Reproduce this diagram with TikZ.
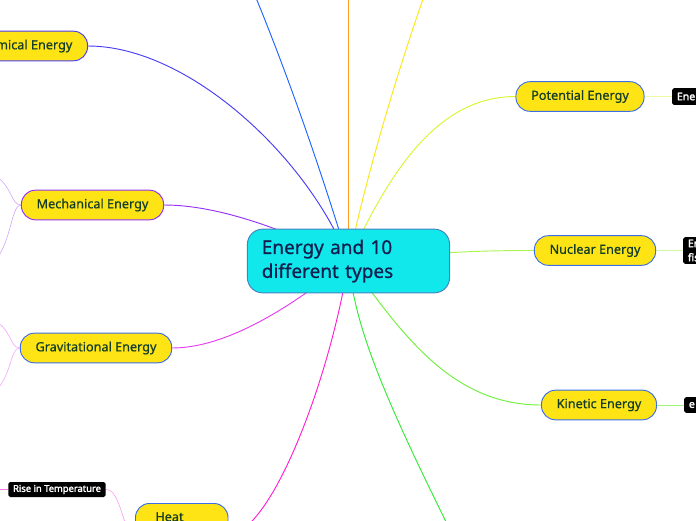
\documentclass[tikz,border=0pt]{standalone}
\usepackage{fontspec}
\setmainfont{Noto Sans}
\newfontfamily\topicfont[FakeBold=0.7]{Noto Sans}
\newfontfamily\tagfont[FakeBold=2.2]{Noto Sans}
\usepackage{tikz}
\usetikzlibrary{backgrounds}
\usepackage{xcolor}
\definecolor{topicyellow}{RGB}{255,228,21}
\definecolor{topictext}{RGB}{20,62,42}
\definecolor{roottext}{RGB}{18,30,78}
\definecolor{rootfill}{RGB}{16,232,236}
\definecolor{rootline}{RGB}{70,130,190}
\definecolor{edgeblue}{RGB}{60,110,230}
\definecolor{chemline}{RGB}{72,60,245}
\definecolor{mechline}{RGB}{150,50,245}
\definecolor{gravline}{RGB}{230,60,240}
\definecolor{heatline}{RGB}{255,30,210}
\definecolor{skyline}{RGB}{30,100,255}
\definecolor{orangeline}{RGB}{255,155,30}
\definecolor{yellowline}{RGB}{250,230,20}
\definecolor{potline}{RGB}{214,246,50}
\definecolor{nucline}{RGB}{170,245,80}
\definecolor{kinline}{RGB}{110,240,60}
\definecolor{greenline}{RGB}{50,235,50}

\begin{document}
\begin{tikzpicture}[x=0.03cm, y=-0.03cm,
    topic/.style={draw=edgeblue, line width=0.8pt, fill=topicyellow, rounded corners=12pt,
      minimum height=25.3pt, inner xsep=13pt, text=topictext, font=\topicfont\fontsize{10.8}{13}\selectfont},
    tag/.style={fill=black, rounded corners=1.5pt, text=white, inner xsep=4pt, inner ysep=1pt,
      font=\tagfont\fontsize{8}{9.5}\selectfont},
    link/.style={line width=0.8pt},
    twig/.style={line width=0.5pt}]
    \useasboundingbox (0,0) rectangle (696,520);

    % Central idea
    \node[draw=rootline, line width=0.8pt, fill=rootfill, rounded corners=13pt,
      minimum width=172.6pt, minimum height=54.4pt, text width=148pt, align=left,
      text=roottext, font=\topicfont\fontsize{16.2}{20.4}\selectfont] (root) at (348.5,261)
      {Energy and 10\\different types};

    % Topics
    \node[topic, draw=chemline, anchor=east] (chem) at (88,46) {Chemical Energy};
    \node[topic, draw=mechline] (mech) at (92.5,205) {Mechanical Energy};
    \node[topic] (grav) at (96,348) {Gravitational Energy};
    \node[topic, anchor=north west, text width=45pt, align=left, inner xsep=17pt,
      inner ysep=7.6pt, text height=7.6pt, text depth=30pt] (heat) at (135,503) {Heat};
    \node[topic] (pot) at (580,96.5) {Potential Energy};
    \node[topic] (nuc) at (595,250.5) {Nuclear Energy};
    \node[topic] (kin) at (599,405) {Kinetic Energy};

    % Black notes
    \node[tag, minimum height=12.8pt] (rise) at (57,489.5) {Rise in Temperature};
    \node[tag, anchor=west, font=\tagfont\fontsize{9}{12}\selectfont, text width=30pt,
      align=left, minimum height=14.5pt] (potnote) at (672,96.5) {Ene};
    \node[tag, anchor=west, font=\tagfont\fontsize{9}{12}\selectfont, text width=30pt,
      align=left, minimum height=23pt] (nucnote) at (683,250.5) {En\\fis};
    \node[tag, anchor=west, font=\tagfont\fontsize{9}{12}\selectfont, text width=30pt,
      align=left, minimum height=13.6pt] (kinnote) at (684,405) {e};

    % Loose ends off the page
    \coordinate (up1) at (240,-40);
    \coordinate (up2) at (348.5,-40);
    \coordinate (up3) at (437,-40);
    \coordinate (down1) at (465,560);
    \coordinate (mech1) at (-6,175);
    \coordinate (mech2) at (-6,262);
    \coordinate (grav1) at (-6,320);
    \coordinate (grav2) at (-6,392);
    \coordinate (rise1) at (-10,489.5);

    \begin{pgfonlayer}{background}
      % Branches from the centre
      \draw[link, chemline] (root.center) .. controls +(-38.5,-101) and +(102,0) .. (chem.east);
      \draw[link, skyline] (root.center) .. controls +(-33.5,-111) and +(35,80) .. (up1);
      \draw[link, orangeline] (root.center) -- (up2);
      \draw[link, yellowline] (root.center) .. controls +(16.5,-81) and +(-37,100) .. (up3);
      \draw[link, potline] (root.center) .. controls +(41.5,-91) and +(-77,0) .. (pot.west);
      \draw[link, nucline] (root.center) .. controls +(91.5,-9) and +(-55,0) .. (nuc.west);
      \draw[link, kinline] (root.center) .. controls +(51.5,69) and +(-92,0) .. (kin.west);
      \draw[link, greenline] (root.center) .. controls +(6.5,69) and +(-80,-160) .. (down1);
      \draw[link, heatline] (root.center) .. controls +(-18.5,119) and +(42,0) .. (heat.east);
      \draw[link, gravline] (root.center) .. controls +(-48.5,39) and +(59,0) .. (grav.east);
      \draw[link, mechline] (root.center) .. controls +(-58.5,-29) and +(57,0) .. (mech.east);

      % Sub-branches
      \draw[twig, mechline!45] (mech.west) .. controls +(-10,0) and +(18,10) .. (mech1);
      \draw[twig, mechline!45] (mech.west) .. controls +(-10,0) and +(18,-20) .. (mech2);
      \draw[twig, gravline!45] (grav.west) .. controls +(-10,0) and +(18,10) .. (grav1);
      \draw[twig, gravline!45] (grav.west) .. controls +(-10,0) and +(18,-15) .. (grav2);
      \draw[twig, heatline!45] (heat.west) .. controls +(-13,0) and +(16,0) .. (rise.east);
      \draw[twig, heatline!60] (rise.west) -- (rise1);
      \draw[twig, potline!45] (pot.east) -- (potnote.west);
      \draw[twig, nucline!55] (nuc.east) -- (nucnote.west);
      \draw[twig, kinline!70] (kin.east) -- (kinnote.west);
    \end{pgfonlayer}
\end{tikzpicture}
\end{document}
